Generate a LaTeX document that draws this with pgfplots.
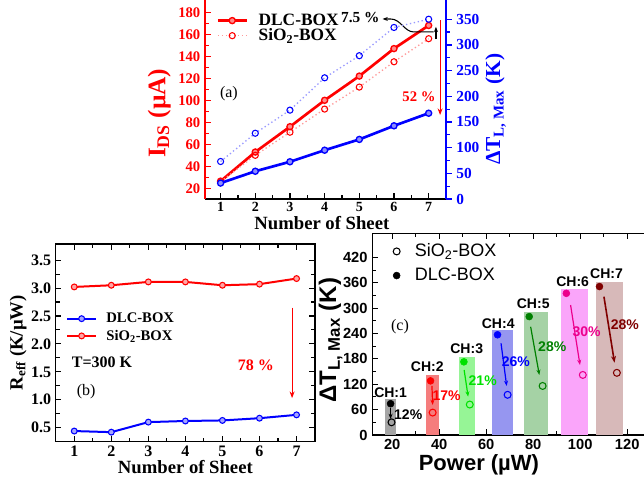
\documentclass[border=0pt]{standalone}
\usepackage{fontspec}
\setmainfont{Liberation Serif}
\newfontfamily\arialf{Liberation Sans}
\usepackage{pgfplots}
\pgfplotsset{compat=1.18}
\usetikzlibrary{arrows.meta}

\definecolor{barA}{RGB}{165,165,165}
\definecolor{barB}{RGB}{245,125,125}
\definecolor{barC}{RGB}{150,245,150}
\definecolor{barD}{RGB}{150,150,240}
\definecolor{barE}{RGB}{165,210,165}
\definecolor{barF}{RGB}{250,165,250}
\definecolor{barG}{RGB}{215,185,185}
\definecolor{limeg}{RGB}{0,225,0}
\definecolor{darkg}{RGB}{0,128,0}
\definecolor{maroon}{RGB}{128,0,0}

\pgfplotsset{
  longlegend/.style={legend image code/.code={
    \draw[mark repeat=2,mark phase=2,##1] plot coordinates {(0cm,0cm) (0.38cm,0cm) (0.76cm,0cm)};}},
}

\begin{document}
\begin{tikzpicture}
\useasboundingbox (0,0) rectangle (483pt,360.75pt);

% ---------------- (a) left axis: I_DS
\begin{axis}[
  at={(153.75pt,211.5pt)}, anchor=south west,
  scale only axis, width=180.75pt, height=153pt,
  xmin=0.55, xmax=7.5, ymin=10.3, ymax=195.7,
  axis x line*=bottom, axis y line*=left,
  x axis line style={line width=1.1pt, black},
  y axis line style={line width=1.1pt, red},
  xtick={1,...,7}, ytick={20,40,...,180},
  minor x tick num=1, minor y tick num=1,
  tick align=inside,
  x tick style={black, line width=0.9pt},
  y tick style={red, line width=0.9pt},
  yticklabel style={red},
  ticklabel style={font=\fontsize{11}{12}\selectfont\bfseries},
  xticklabel style={font=\fontsize{10.5}{11}\selectfont\bfseries, yshift=1pt},
  /pgf/number format/assume math mode=true,
  xlabel={Number of Sheet},
  xlabel style={font=\fontsize{14}{15}\selectfont\bfseries, at={(axis description cs:0.485,-0.118)}, anchor=center},
  ylabel={I\textsubscript{DS} (µA)},
  ylabel style={red, font=\fontsize{19}{20}\selectfont\bfseries, at={(axis description cs:-0.19,0.42)}, anchor=center},
  legend style={at={(axis description cs:0.03,0.935)}, anchor=north west, draw=none, fill=none,
    font=\fontsize{13}{14}\selectfont\bfseries, row sep=-3pt,
    /tikz/every odd column/.append style={column sep=6pt}},
  legend cell align=left, longlegend,
]
\addplot[red, line width=2pt, mark=*, mark size=2.3pt, mark options={fill=red!45, line width=1pt}]
  coordinates {(1,26.5)(2,53)(3,76)(4,100)(5,122)(6,147)(7,168)};
\addplot[red!40, dotted, line width=1pt, mark=o, mark size=2.3pt, mark options={red, solid, line width=0.8pt}]
  coordinates {(1,26)(2,50)(3,71)(4,92)(5,112)(6,135)(7,156)};
\legend{DLC-BOX, SiO\textsubscript{2}-BOX}
\node[font=\fontsize{11.5}{12}\selectfont\bfseries] at (axis cs:5.03,175) {7.5 \%};
\draw[black, line width=0.8pt, -{Stealth[length=4pt]}] (axis cs:7.14,162.1) -- (axis cs:6.57,162.1)
  .. controls (axis cs:6.3,162.1) and (axis cs:6.2,173.9) .. (axis cs:5.9,173.9) -- (axis cs:5.67,173.9);
\draw[black, line width=0.9pt, -{Stealth[length=4pt]}] (axis cs:7.21,155.7) -- (axis cs:7.21,166.8);
\draw[red, line width=0.9pt, -{Stealth[length=5pt]}] (axis cs:7.33,172.8) -- (axis cs:7.33,86.6);
\node[red, font=\fontsize{11}{12}\selectfont\bfseries] at (axis cs:6.72,103.3) {52 \%};
\node[font=\fontsize{12}{13}\selectfont] at (axis cs:1.24,105.7) {(a)};
\end{axis}

% ---------------- (a) right axis: Delta T
\begin{axis}[
  at={(153.75pt,211.5pt)}, anchor=south west,
  scale only axis, width=180.75pt, height=153pt,
  xmin=0.55, xmax=7.5, ymin=0, ymax=397.2,
  axis x line=none, axis y line*=right,
  y axis line style={line width=1.1pt, blue},
  ytick={0,50,...,350}, minor y tick num=1,
  tick align=outside,
  y tick style={blue, line width=0.9pt},
  yticklabel style={blue},
  ticklabel style={font=\fontsize{11.5}{12}\selectfont\bfseries},
  /pgf/number format/assume math mode=true,
  ylabel={ΔT\textsubscript{L, Max} (K)},
  ylabel style={blue, font=\fontsize{16}{17}\selectfont\bfseries, at={(axis description cs:1.206,0.44)}, anchor=center},
]
\addplot[blue, line width=2pt, mark=*, mark size=2.3pt, mark options={fill=blue!45, line width=1pt}]
  coordinates {(1,31)(2,54)(3,72.5)(4,95)(5,116)(6,142.5)(7,167)};
\addplot[blue!40, dotted, line width=1pt, mark=o, mark size=2.3pt, mark options={blue, solid, line width=0.8pt}]
  coordinates {(1,73)(2,128)(3,173)(4,236)(5,279)(6,334)(7,350)};
\end{axis}

% ---------------- (b)
\begin{axis}[
  at={(41.8pt,29.5pt)}, anchor=south west,
  scale only axis, width=194.5pt, height=148.3pt,
  xmin=0.5, xmax=7.5, ymin=0.25, ymax=3.79,
  xtick={1,...,7}, ytick={0.5,1,...,3.5},
  minor x tick num=1, minor y tick num=1,
  tick align=inside,
  axis line style={line width=1pt},
  tick style={line width=0.8pt, black},
  yticklabel style={/pgf/number format/.cd, fixed, fixed zerofill, precision=1},
  ticklabel style={font=\fontsize{12}{13}\selectfont\bfseries},
  /pgf/number format/assume math mode=true,
  xlabel={Number of Sheet},
  xlabel style={font=\fontsize{14}{15}\selectfont\bfseries, at={(axis description cs:0.5,-0.128)}, anchor=center},
  ylabel={R\textsubscript{eff} (K/µW)},
  ylabel style={font=\fontsize{14}{15}\selectfont\bfseries, at={(axis description cs:-0.145,0.5)}, anchor=center},
  legend style={at={(axis description cs:0.024,0.68)}, anchor=north west, draw=none, fill=none,
    font=\fontsize{11}{12}\selectfont\bfseries, row sep=0pt,
    /tikz/every odd column/.append style={column sep=5pt}},
  legend cell align=left, longlegend,
]
\addplot[blue, line width=1.5pt, mark=*, mark size=2.2pt, mark options={fill=blue!35, line width=0.8pt}]
  coordinates {(1,0.44)(2,0.42)(3,0.60)(4,0.62)(5,0.63)(6,0.67)(7,0.73)};
\addplot[red, line width=1.5pt, mark=*, mark size=2.2pt, mark options={fill=red!35, line width=0.8pt}]
  coordinates {(1,3.02)(2,3.05)(3,3.11)(4,3.11)(5,3.05)(6,3.07)(7,3.17)};
\legend{DLC-BOX, SiO\textsubscript{2}-BOX}
\node[anchor=west, font=\fontsize{12}{13}\selectfont\bfseries] at (axis cs:0.81,1.68) {T=300 K};
\node[font=\fontsize{12}{13}\selectfont] at (axis cs:1.32,1.14) {(b)};
\node[red, font=\fontsize{12}{13}\selectfont\bfseries] at (axis cs:5.9,1.61) {78 \%};
\draw[red, line width=0.8pt, -{Stealth[length=5pt]}] (axis cs:6.88,2.65) -- (axis cs:6.88,1.03);
\end{axis}

% ---------------- (c)
\begin{axis}[
  at={(279.2pt,34.5pt)}, anchor=south west,
  scale only axis, width=208.3pt, height=151.3pt,
  xmin=11.5, xmax=129.7, ymin=0, ymax=477,
  xtick={20,40,...,120}, ytick={0,60,...,420},
  minor x tick num=1, minor y tick num=1,
  tick align=inside,
  axis line style={line width=1pt},
  tick style={line width=0.8pt, black},
  ticklabel style={font=\arialf\fontsize{11}{12}\selectfont\bfseries},
  /pgf/number format/assume math mode=true,
  xlabel={Power (µW)},
  xlabel style={font=\arialf\fontsize{16.5}{18}\selectfont\bfseries, at={(axis description cs:0.384,-0.146)}, anchor=center},
  ylabel={ΔT\textsubscript{L, Max} (K)},
  ylabel style={font=\arialf\fontsize{18}{19}\selectfont\bfseries, at={(axis description cs:-0.15,0.47)}, anchor=center},
  legend style={at={(axis description cs:0.06,0.975)}, anchor=north west, draw=none, fill=none,
    font=\arialf\fontsize{13.5}{15}\selectfont, row sep=3pt,
    /tikz/every odd column/.append style={column sep=9pt}},
  legend cell align=left,
]
\addlegendimage{only marks, mark=o, mark size=2.6pt, black, line width=0.8pt}
\addlegendimage{only marks, mark=*, mark size=2.6pt, black}
\legend{SiO\textsubscript{2}-BOX, DLC-BOX}
% shaded channel bars
\addplot[ybar, bar width=4.4, bar shift=0pt, draw=none, fill=barA] coordinates {(19.3,84)};
\addplot[ybar, bar width=5.4, bar shift=0pt, draw=none, fill=barB] coordinates {(37.2,142)};
\addplot[ybar, bar width=6.6, bar shift=0pt, draw=none, fill=barC] coordinates {(51.9,184)};
\addplot[ybar, bar width=9.0, bar shift=0pt, draw=none, fill=barD] coordinates {(67.1,248)};
\addplot[ybar, bar width=10.3, bar shift=0pt, draw=none, fill=barE] coordinates {(81.05,292)};
\addplot[ybar, bar width=11.7, bar shift=0pt, draw=none, fill=barF] coordinates {(97.55,346)};
\addplot[ybar, bar width=11.6, bar shift=0pt, draw=none, fill=barG] coordinates {(112.6,362)};
% DLC-BOX (filled) and SiO2-BOX (open)
\addplot[only marks, mark=*, mark size=2.6pt, black] coordinates {(19.3,74)};
\addplot[only marks, mark=*, mark size=2.6pt, red] coordinates {(36.3,128)};
\addplot[only marks, mark=*, mark size=2.6pt, limeg] coordinates {(50.5,173)};
\addplot[only marks, mark=*, mark size=2.6pt, blue] coordinates {(64.8,237)};
\addplot[only marks, mark=*, mark size=2.6pt, darkg] coordinates {(78.3,280)};
\addplot[only marks, mark=*, mark size=2.6pt, magenta] coordinates {(94.1,335)};
\addplot[only marks, mark=*, mark size=2.6pt, maroon] coordinates {(108.2,351)};
\addplot[only marks, mark=o, mark size=2.6pt, line width=0.8pt, black] coordinates {(19.7,30)};
\addplot[only marks, mark=o, mark size=2.6pt, line width=0.8pt, red] coordinates {(37.2,53)};
\addplot[only marks, mark=o, mark size=2.6pt, line width=0.8pt, limeg] coordinates {(53,72)};
\addplot[only marks, mark=o, mark size=2.6pt, line width=0.8pt, blue] coordinates {(69.1,95)};
\addplot[only marks, mark=o, mark size=2.6pt, line width=0.8pt, darkg] coordinates {(84,116)};
\addplot[only marks, mark=o, mark size=2.6pt, line width=0.8pt, magenta] coordinates {(101.1,142)};
\addplot[only marks, mark=o, mark size=2.6pt, line width=0.8pt, maroon] coordinates {(115.6,147)};
% arrows
\draw[black, line width=0.9pt, -{Stealth[length=4pt]}] (axis cs:19.3,64.6) -- (axis cs:19.3,37.8);
\draw[red, line width=0.9pt, -{Stealth[length=4pt]}] (axis cs:36.9,115.9) -- (axis cs:37.2,71);
\draw[limeg, line width=0.9pt, -{Stealth[length=4pt]}] (axis cs:50.6,153.7) -- (axis cs:52.3,90.6);
\draw[blue, line width=0.9pt, -{Stealth[length=4pt]}] (axis cs:66.3,216.8) -- (axis cs:68.7,115.9);
\draw[darkg, line width=0.9pt, -{Stealth[length=4pt]}] (axis cs:78.9,256) -- (axis cs:82.6,141.9);
\draw[magenta, line width=0.9pt, -{Stealth[length=4pt]}] (axis cs:95.9,307.4) -- (axis cs:99.9,165.5);
\draw[maroon, line width=1.2pt, -{Stealth[length=5pt]}] (axis cs:110.1,327) -- (axis cs:114.6,171);
% labels
\begin{scope}[every node/.style={font=\arialf\fontsize{10.5}{11}\selectfont\bfseries}]
\node at (axis cs:19.3,100) {CH:1};
\node at (axis cs:34.9,161.5) {CH:2};
\node at (axis cs:51.7,205) {CH:3};
\node at (axis cs:65.1,264) {CH:4};
\node at (axis cs:80,311.5) {CH:5};
\node at (axis cs:96.8,362.5) {CH:6};
\node at (axis cs:111.2,382) {CH:7};
\node[black] at (axis cs:26.8,49) {12\%};
\node[red] at (axis cs:43.1,93.9) {17\%};
\node[limeg] at (axis cs:58.5,128.4) {21\%};
\node[blue] at (axis cs:72.6,173.3) {26\%};
\node[darkg] at (axis cs:88.1,208.8) {28\%};
\node[magenta] at (axis cs:102.7,244.3) {30\%};
\node[maroon] at (axis cs:119,261.8) {28\%};
\end{scope}
\node[font=\fontsize{12}{13}\selectfont] at (axis cs:23.3,256) {(c)};
\end{axis}
\end{tikzpicture}
\end{document}
